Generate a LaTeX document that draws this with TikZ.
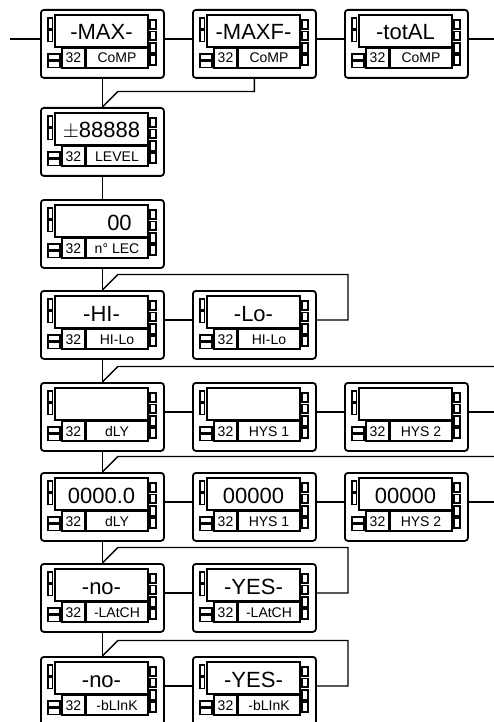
\documentclass[tikz,border=0pt]{standalone}
\usepackage{fontspec}
\setmainfont{Liberation Sans}
\usetikzlibrary{calc}

\tikzset{
	panel box/.style={draw, line width=1.8pt, rounded corners=3pt,
		minimum width=123pt, minimum height=68pt, anchor=north west,
		inner sep=0pt},
	panel part/.style={draw, line width=1.3pt},
	wire/.style={line width=1.4pt},
	bigfont/.style={anchor=base, inner sep=0pt,
		font=\fontsize{22}{24}\selectfont},
	smallfont/.style={anchor=base, inner sep=0pt,
		font=\fontsize{14}{16}\selectfont}
}

% One display unit: name, top left corner, display text, label
\newcommand{\drawpanel}[4]{%
	\node[panel box] (#1) at (#2) {};
	\begin{scope}[shift={(#1.north west)}]
		% display window and the two lower fields
		\draw[panel part] (15,6) rectangle (108,38);
		\draw[panel part] (22,39) rectangle (45,59);
		\draw[panel part] (46,39) rectangle (108,59);
		% leds on the left
		\draw[panel part] (8,9) rectangle (12.5,20);
		\draw[panel part] (8,21) rectangle (12.5,32.5);
		\draw[panel part] (8,45) rectangle (20,51);
		\draw[panel part] (8,52.5) rectangle (20,58.5);
		% keys on the right
		\draw[panel part] (110,11) rectangle (116,20);
		\draw[panel part] (110,22.5) rectangle (116,31);
		\draw[panel part] (110,34) rectangle (116,44);
		\draw[panel part] (110,46) rectangle (116,56);
		% texts
		\node[bigfont] (#1-d) at (61.5,31) {#3};
		\node[smallfont] (#1-n) at (33.5,54) {32};
		\node[smallfont] (#1-l) at (77,54) {#4};
		% where the wires come in and go out
		\coordinate (#1-in) at (0,30);
		\coordinate (#1-out) at (123,30);
	\end{scope}
}

\begin{document}
\begin{tikzpicture}[x=1pt, y=-1pt]
	\useasboundingbox (0,0) rectangle (494,722);
	\coordinate (edge) at (494,0);
	\coordinate (start) at (10,39);

	% first row: the three comparisons
	\drawpanel{max}{40,9}{-MAX-}{CoMP}
	\drawpanel{maxf}{192,9}{-MAXF-}{CoMP}
	\drawpanel{total}{344,9}{-totAL}{CoMP}
	% level and number of readings
	\drawpanel{level}{40,107}{$\pm$88888}{LEVEL}
	\drawpanel{nlec}{40,199}{\hspace*{36pt}00}{n° LEC}
	% high or low
	\drawpanel{hi}{40,290}{-HI-}{HI-Lo}
	\drawpanel{lo}{192,290}{-Lo-}{HI-Lo}
	% delay and hysteresis
	\drawpanel{dly}{40,382}{}{dLY}
	\drawpanel{hysa}{192,382}{}{HYS 1}
	\drawpanel{hysb}{344,382}{}{HYS 2}
	\drawpanel{dlyv}{40,472}{0000.0}{dLY}
	\drawpanel{hysav}{192,472}{00000}{HYS 1}
	\drawpanel{hysbv}{344,472}{00000}{HYS 2}
	% latch and blink
	\drawpanel{latno}{40,563}{-no-}{-LAtCH}
	\drawpanel{latyes}{192,563}{-YES-}{-LAtCH}
	\drawpanel{blno}{40,656}{-no-}{-bLInK}
	\drawpanel{blyes}{192,656}{-YES-}{-bLInK}

	% wires along the first row
	\draw[wire] (start) -- (max-in);
	\draw[wire] (max-out) -- (maxf-in);
	\draw[wire] (maxf-out) -- (total-in);
	\draw[wire] (total-out) -- (total-out -| edge);
	\draw[wire] (max.south) -- (level.north);
	\draw[wire] (maxf.south) |- ($(level.north)+(15.5,-15.5)$)
		-- (level.north);

	\draw[wire] (level.south) -- (nlec.north);
	\draw[wire] (nlec.south) -- (hi.north);
	\draw[wire] (hi-out) -- (lo-in);
	\draw[wire] (lo-out) -- ++(33,0) |- ($(hi.north)+(15.5,-15.5)$)
		-- (hi.north);

	% delay rows, going on to the right
	\draw[wire] (hi.south) -- (dly.north);
	\draw[wire] (dly.north) -- ++(15.5,-15.5) coordinate (jfive)
		-- (jfive -| edge);
	\draw[wire] (dly-out) -- (hysa-in);
	\draw[wire] (hysa-out) -- (hysb-in);
	\draw[wire] (hysb-out) -- (hysb-out -| edge);
	\draw[wire] (dly.south) -- (dlyv.north);
	\draw[wire] (dlyv.north) -- ++(15.5,-15.5) coordinate (jsix)
		-- (jsix -| edge);
	\draw[wire] (dlyv-out) -- (hysav-in);
	\draw[wire] (hysav-out) -- (hysbv-in);
	\draw[wire] (hysbv-out) -- (hysbv-out -| edge);

	% latch and blink loops
	\draw[wire] (dlyv.south) -- (latno.north);
	\draw[wire] (latno-out) -- (latyes-in);
	\draw[wire] (latyes-out) -- ++(33,0) |- ($(latno.north)+(15.5,-15.5)$)
		-- (latno.north);
	\draw[wire] (latno.south) -- (blno.north);
	\draw[wire] (blno-out) -- (blyes-in);
	\draw[wire] (blyes-out) -- ++(33,0) |- ($(blno.north)+(15.5,-15.5)$)
		-- (blno.north);
\end{tikzpicture}
\end{document}
